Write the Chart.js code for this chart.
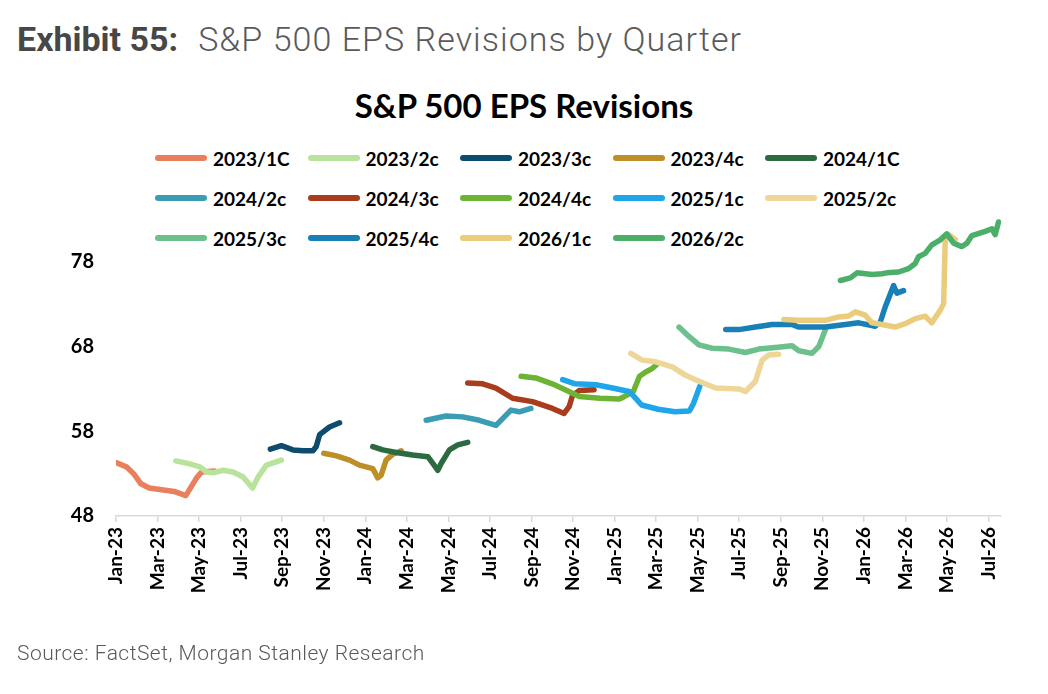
<!DOCTYPE html>
<html>
<head>
<meta charset="utf-8">
<script src="https://cdn.jsdelivr.net/npm/chart.js@4.4.1/dist/chart.umd.min.js"></script>
<style>
    body { margin: 0; width: 1048px; height: 694px; background: #fff; position: relative; overflow: hidden; }
    #header { position: absolute; left: 17px; top: 19px; font-family: Roboto, sans-serif; font-size: 34px; color: #5a5a5a; white-space: nowrap; }
    #header b { font-weight: 700; color: #474747; margin-right: 20px; }
    #header span { font-weight: 300; letter-spacing: 1.05px; }
    #title { position: absolute; left: 0; width: 1048px; top: 85px; text-align: center; font-family: Lato, sans-serif; font-weight: 700; font-size: 33px; color: #000; }
    #legend { position: absolute; left: 0; top: 0; font-family: Lato, sans-serif; font-weight: 700; font-size: 19px; color: #000; }
    .item { position: absolute; display: flex; align-items: center; white-space: nowrap; height: 24px; }
    .item i { display: inline-block; width: 52px; height: 6px; border-radius: 3px; margin-right: 6px; }
    #source { position: absolute; left: 17px; top: 641px; font-family: Roboto, sans-serif; font-weight: 300; font-size: 21px; letter-spacing: 0.48px; color: #5a5a5a; }
    #chart { position: absolute; left: 0; top: 0; }
</style>
</head>
<body>
<div id="header"><b>Exhibit 55:</b><span>S&amp;P 500 EPS Revisions by Quarter</span></div>
<div id="title">S&amp;P 500 EPS Revisions</div>
<div id="legend"></div>
<canvas id="chart" width="1048" height="694"></canvas>
<div id="source">Source: FactSet, Morgan Stanley Research</div>

<script>
// x = months since Jan 2023, y = EPS estimate
const eps2023q1 = [[0, 54.3], [0.5, 53.8], [0.85, 53.0], [1.2, 51.8], [1.6, 51.3], [2.2, 51.1], [2.8, 50.9], [3.36, 50.4], [3.88, 52.5], [4.12, 53.2], [4.75, 53.3]];
const eps2023q2 = [[2.88, 54.5], [3.47, 54.2], [4.04, 53.8], [4.36, 53.2], [4.68, 53.1], [5.16, 53.4], [5.64, 53.2], [6.12, 52.6], [6.57, 51.3], [6.84, 52.6], [7.24, 54.0], [7.96, 54.6]];
const eps2023q3 = [[7.43, 55.9], [7.96, 56.3], [8.52, 55.8], [9.0, 55.7], [9.48, 55.7], [9.64, 56.2], [9.8, 57.6], [10.28, 58.5], [10.76, 59.0]];
const eps2023q4 = [[10.0, 55.4], [10.61, 55.1], [11.24, 54.6], [11.72, 54.0], [12.36, 53.6], [12.6, 52.5], [12.76, 52.8], [13.0, 54.6], [13.33, 55.3], [13.73, 55.7]];
const eps2024q1 = [[12.36, 56.2], [12.84, 55.8], [13.49, 55.5], [14.28, 55.2], [15.01, 55.0], [15.25, 54.2], [15.49, 53.4], [15.65, 54.2], [16.05, 55.8], [16.45, 56.4], [16.93, 56.7]];
const eps2024q2 = [[14.93, 59.3], [15.89, 59.8], [16.69, 59.7], [17.49, 59.3], [18.29, 58.7], [18.61, 59.5], [19.01, 60.5], [19.41, 60.3], [19.97, 60.7]];
const eps2024q3 = [[16.93, 63.7], [17.65, 63.6], [18.29, 63.1], [19.09, 61.9], [20.05, 61.5], [21.01, 60.7], [21.57, 60.1], [21.81, 60.9], [21.97, 62.2], [22.29, 62.8], [23.01, 62.9]];
const eps2024q4 = [[19.5, 64.5], [20.2, 64.3], [21.0, 63.6], [21.8, 62.7], [22.3, 62.1], [23.3, 61.9], [24.2, 61.8], [24.4, 62.0], [24.9, 62.7], [25.2, 64.5], [25.5, 65.0], [25.8, 65.4], [26.0, 65.8]];
const eps2025q1 = [[21.5, 64.1], [22.1, 63.6], [23.1, 63.5], [23.9, 63.1], [24.7, 62.7], [24.9, 62.2], [25.3, 61.1], [26.1, 60.6], [26.9, 60.3], [27.6, 60.4], [27.8, 61.3], [28.1, 63.3]];
const eps2025q2 = [[24.78, 67.2], [25.33, 66.4], [25.98, 66.2], [26.78, 65.6], [27.42, 64.6], [28.06, 63.9], [28.86, 63.1], [29.98, 63.0], [30.3, 62.7], [30.78, 63.9], [31.1, 66.4], [31.42, 67.0], [31.9, 67.1]];
const eps2025q3 = [[27.1, 70.3], [27.58, 69.2], [28.06, 68.2], [28.7, 67.8], [29.5, 67.7], [30.3, 67.3], [30.94, 67.7], [31.74, 67.9], [32.54, 68.1], [32.87, 67.5], [33.5, 67.2], [33.83, 68.0], [34.15, 70.0]];
const eps2025q4 = [[29.35, 70.0], [29.98, 70.0], [30.78, 70.3], [31.58, 70.6], [32.54, 70.6], [32.87, 70.3], [34.15, 70.3], [35.11, 70.6], [35.75, 70.8], [36.55, 70.4], [36.79, 70.9], [37.03, 72.7], [37.43, 75.2], [37.59, 74.3], [37.91, 74.6]];
const eps2026q1 = [[32.15, 71.2], [32.87, 71.1], [33.51, 71.1], [34.15, 71.1], [34.79, 71.5], [35.27, 71.6], [35.59, 72.1], [36.07, 71.7], [36.39, 70.8], [36.87, 70.6], [37.51, 70.3], [37.99, 70.7], [38.47, 71.3], [38.95, 71.6], [39.27, 70.8], [39.68, 72.3], [39.84, 73.1], [39.92, 81.0], [40.08, 81.2], [40.4, 80.6]];
const eps2026q2 = [[34.87, 75.8], [35.35, 76.1], [35.67, 76.7], [36.39, 76.5], [36.87, 76.6], [37.11, 76.7], [37.67, 76.8], [38.15, 77.2], [38.47, 77.8], [38.63, 78.6], [38.95, 79.0], [39.27, 80.0], [39.68, 80.6], [39.99, 81.3], [40.32, 80.2], [40.72, 79.8], [40.96, 80.2], [41.2, 81.1], [41.84, 81.6], [42.16, 81.9], [42.32, 81.2], [42.48, 82.7]];

const seriesNames = ['2023/1C', '2023/2c', '2023/3c', '2023/4c', '2024/1C', '2024/2c', '2024/3c', '2024/4c', '2025/1c', '2025/2c', '2025/3c', '2025/4c', '2026/1c', '2026/2c'];
const seriesData = [eps2023q1, eps2023q2, eps2023q3, eps2023q4, eps2024q1, eps2024q2, eps2024q3, eps2024q4, eps2025q1, eps2025q2, eps2025q3, eps2025q4, eps2026q1, eps2026q2];
const seriesColors = ['#E8805E', '#B9E39B', '#0E4C6E', '#BE8E27', '#2C6B40', '#3A9DB4', '#A83C1C', '#6BB434', '#1EA6E8', '#EED598', '#6CC08C', '#1880B6', '#EACC7C', '#4BAF6A'];

const xTickMonths = [0, 2, 4, 6, 8, 10, 12, 14, 16, 18, 20, 22, 24, 26, 28, 30, 32, 34, 36, 38, 40, 42];
const xTickLabels = ['Jan-23', 'Mar-23', 'May-23', 'Jul-23', 'Sep-23', 'Nov-23', 'Jan-24', 'Mar-24', 'May-24', 'Jul-24', 'Sep-24', 'Nov-24',
    'Jan-25', 'Mar-25', 'May-25', 'Jul-25', 'Sep-25', 'Nov-25', 'Jan-26', 'Mar-26', 'May-26', 'Jul-26'];
const yTicks = [48, 58, 68, 78];

// legend (5 per row, like the Excel one)
const legend = document.getElementById('legend');
seriesNames.forEach((name, i) => {
    const div = document.createElement('div');
    div.className = 'item';
    div.style.left = (155 + (i % 5) * 152.5) + 'px';
    div.style.top = (146 + Math.floor(i / 5) * 40) + 'px';
    div.innerHTML = `<i style="background:${seriesColors[i]}"></i>${name}`;
    legend.appendChild(div);
});

const labelFont = { family: 'Lato', weight: 'bold', size: 19 };

const ctx = document.getElementById('chart').getContext('2d');
new Chart(ctx, {
    type: 'line',
    data: {
        datasets: seriesData.map((d, i) => ({
            label: seriesNames[i],
            data: d,
            borderColor: seriesColors[i],
            backgroundColor: seriesColors[i],
            order: seriesData.length - i,
            fill: false
        }))
    },
    options: {
        responsive: false,
        animation: false,
        layout: { padding: { top: 211, right: 47, left: 0, bottom: 0 } },
        plugins: { legend: { display: false }, title: { display: false }, tooltip: { enabled: false } },
        elements: {
            point: { radius: 0 },
            line: { borderWidth: 5.5, tension: 0, borderCapStyle: 'round', borderJoinStyle: 'round' }
        },
        scales: {
            x: {
                type: 'linear',
                min: 0,
                max: 42.6,
                afterBuildTicks: scale => { scale.ticks = xTickMonths.map(v => ({ value: v })); },
                afterFit: scale => { scale.height = 694 - 516; },
                ticks: {
                    autoSkip: false,
                    maxRotation: 90,
                    minRotation: 90,
                    padding: 5,
                    color: '#000',
                    font: labelFont,
                    callback: (value, index) => xTickLabels[index]
                },
                grid: { drawOnChartArea: false, color: '#D9D9D9', lineWidth: 1.5, tickLength: 6 },
                border: { color: '#D9D9D9', width: 1.5 }
            },
            y: {
                min: 48,
                max: 84,
                afterBuildTicks: scale => { scale.ticks = yTicks.map(v => ({ value: v })); },
                afterFit: scale => { scale.width = 116; },
                ticks: { padding: 22, color: '#000', font: { family: 'Lato', weight: 'bold', size: 20 } },
                grid: { display: false, drawTicks: false },
                border: { display: false }
            }
        }
    }
});
</script>
</body>
</html>
